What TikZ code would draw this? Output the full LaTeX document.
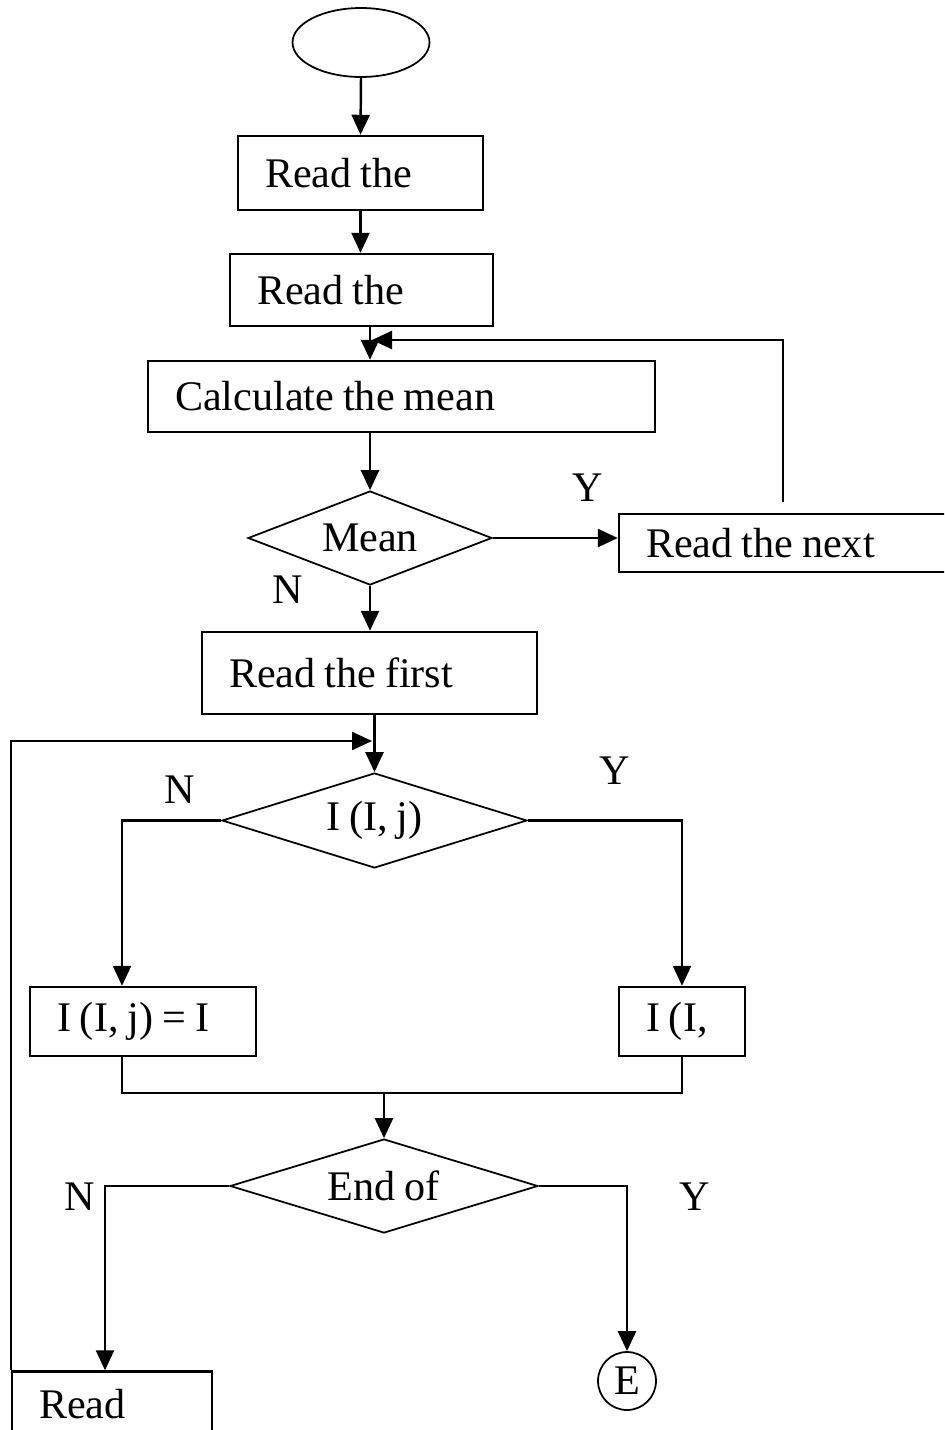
\documentclass[tikz,border=0pt]{standalone}
\usepackage{fontspec}
\setmainfont{Liberation Serif}[WordSpace=0.85]
\usetikzlibrary{shapes.geometric,arrows.meta}
\newcommand{\lefttext}[2]{\makebox[#1][l]{#2}}

\begin{document}
\begin{tikzpicture}[x=0.02cm, y=-0.02cm, line width=1.4pt,
		every node/.style={font=\fontsize{24}{28}\selectfont},
		procbox/.style={draw, rectangle, inner xsep=0.54cm, inner ysep=0pt},
		decide/.style={draw, diamond, inner sep=0pt, line width=1pt},
		flow/.style={-{Triangle[length=0.4cm,width=0.36cm]}}]
		\useasboundingbox (0,0) rectangle (944,1430);
		\clip (0,0) rectangle (944,1430);
		% boxes
		\node[draw, ellipse, minimum width=2.74cm, minimum height=1.38cm, line width=1pt] (start) at (361,42.5) {};
		\node[procbox, minimum height=1.48cm] (readimg) at (360.5,173) {\lefttext{3.82cm}{Read the}};
		\node[procbox, minimum height=1.44cm] (readsize) at (361.5,290) {\lefttext{4.18cm}{Read the}};
		\node[procbox, minimum height=1.42cm] (calc) at (401.5,396.5) {\lefttext{9.06cm}{Calculate the mean}};
		\node[decide, aspect=2.6, minimum width=4.88cm, minimum height=1.88cm] (mean) at (370,538) {\raisebox{-4pt}{Mean}};
		\node[procbox, minimum height=1.16cm] (next) at (784.5,543) {\lefttext{5.54cm}{Read the next}};
		\node[procbox, minimum height=1.64cm] (first) at (369.5,673) {\lefttext{5.62cm}{Read the first}};
		\node[decide, aspect=3.2, minimum width=6.1cm, minimum height=1.9cm] (pixel) at (374.5,820.5) {I (I, j)};
		\node[procbox, minimum height=1.38cm] (setlow) at (143,1021.5) {\lefttext{3.44cm}{I (I, j) = I}};
		\node[procbox, minimum height=1.38cm] (sethigh) at (682,1021.5) {\lefttext{1.44cm}{I (I,}};
		\node[decide, aspect=3.3, minimum width=6.16cm, minimum height=1.88cm] (endimg) at (384,1186) {End of};
		\node[procbox, minimum height=1.3cm] (readpix) at (112,1404) {\lefttext{2.92cm}{Read}};
		\node[draw, circle, minimum size=1.16cm, inner sep=0pt, line width=1pt] (stop) at (627,1381) {E};
		% yes / no
		\node (ymean) at (588,488) {Y};
		\node (nmean) at (288,590) {N};
		\node (npixel) at (180,790) {N};
		\node (ypixel) at (615,771) {Y};
		\node (nend) at (80,1197) {N};
		\node (yend) at (695,1197) {Y};
		% connectors
		\coordinate (loopup) at (783,502);
		\coordinate (loopback) at (372,340);
		\coordinate (loopin) at (372,741);
		\coordinate (merge) at (384,1092);
		\draw[flow] (start.south) -- (readimg.north);
		\draw[flow] (readimg.south) -- (readimg.south |- readsize.north);
		\draw[flow] (readsize.south -| mean.north) -- (calc.north -| mean.north);
		\draw[flow] (calc.south -| mean.north) -- (mean.north);
		\draw[flow] (mean.east) -- (mean.east -| next.west);
		\draw[flow] (loopup) |- (loopback);
		\draw[flow] (mean.south) -- (mean.south |- first.north);
		\draw[flow] (first.south -| pixel.north) -- (pixel.north);
		\draw[flow] (readpix.north west) |- (loopin);
		\draw[flow] (pixel.west) -| ([xshift=-0.42cm]setlow.north);
		\draw[flow] (pixel.east) -| (sethigh.north);
		\draw ([xshift=-0.42cm]setlow.south) -- ++(0,36) -| (sethigh.south);
		\draw[flow] (merge) -- (merge |- endimg.north);
		\draw[flow] (endimg.west) -| ([xshift=-0.14cm]readpix.north);
		\draw[flow] (endimg.east) -| (stop.north);
\end{tikzpicture}
\end{document}
